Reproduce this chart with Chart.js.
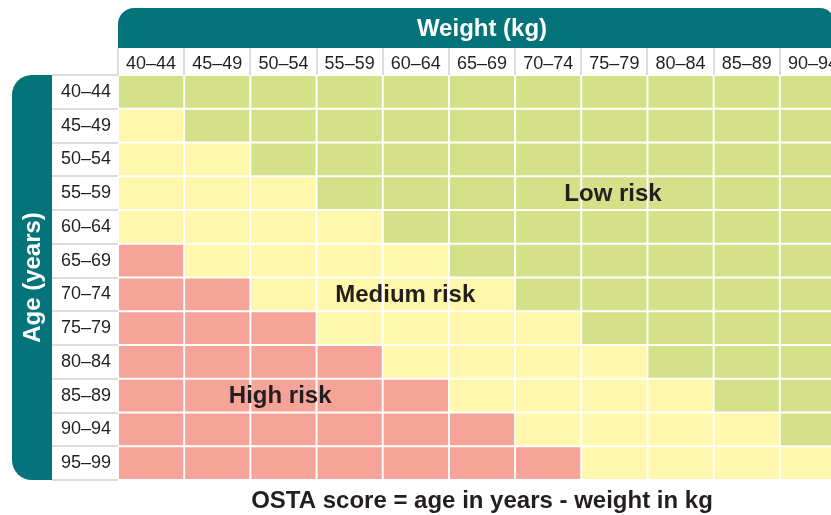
<!DOCTYPE html>
<html>
<head>
<meta charset="utf-8">
<script src="https://cdn.jsdelivr.net/npm/chart.js@4/dist/chart.umd.min.js"></script>
<style>
  html, body { margin: 0; padding: 0; background: #fff; overflow: hidden; }
  .content { width: 831px; height: 515px; overflow: hidden; }
</style>
</head>
<body>
<div class="content">
  <canvas id="chart" width="846" height="515"></canvas>
</div>
<script>
const ageGroups = ['40–44', '45–49', '50–54', '55–59', '60–64', '65–69', '70–74', '75–79', '80–84', '85–89', '90–94', '95–99'];
const weightGroups = ['40–44', '45–49', '50–54', '55–59', '60–64', '65–69', '70–74', '75–79', '80–84', '85–89', '90–94'];

// risk per age row, one letter per weight column (L low, M medium, H high)
const riskByAge = [
  ['L', 'L', 'L', 'L', 'L', 'L', 'L', 'L', 'L', 'L', 'L'],
  ['M', 'L', 'L', 'L', 'L', 'L', 'L', 'L', 'L', 'L', 'L'],
  ['M', 'M', 'L', 'L', 'L', 'L', 'L', 'L', 'L', 'L', 'L'],
  ['M', 'M', 'M', 'L', 'L', 'L', 'L', 'L', 'L', 'L', 'L'],
  ['M', 'M', 'M', 'M', 'L', 'L', 'L', 'L', 'L', 'L', 'L'],
  ['H', 'M', 'M', 'M', 'M', 'L', 'L', 'L', 'L', 'L', 'L'],
  ['H', 'H', 'M', 'M', 'M', 'M', 'L', 'L', 'L', 'L', 'L'],
  ['H', 'H', 'H', 'M', 'M', 'M', 'M', 'L', 'L', 'L', 'L'],
  ['H', 'H', 'H', 'H', 'M', 'M', 'M', 'M', 'L', 'L', 'L'],
  ['H', 'H', 'H', 'H', 'H', 'M', 'M', 'M', 'M', 'L', 'L'],
  ['H', 'H', 'H', 'H', 'H', 'H', 'M', 'M', 'M', 'M', 'L'],
  ['H', 'H', 'H', 'H', 'H', 'H', 'H', 'M', 'M', 'M', 'M']
];

const riskColors = { L: '#d4e189', M: '#fff7ab', H: '#f6a398' };
const teal = '#04737a';
const ink = '#231f20';

// zone labels placed in column units / age rows
const zoneLabels = [
  { text: 'Low risk', col: 7.48, age: '55–59' },
  { text: 'Medium risk', col: 4.34, age: '70–74' },
  { text: 'High risk', col: 2.45, age: '85–89' }
];

Chart.defaults.font.family = "'Liberation Sans', Arial, sans-serif";
Chart.defaults.color = ink;

function roundRect(ctx, x, y, w, h, r) {
  ctx.beginPath();
  ctx.moveTo(x + r[0], y);
  ctx.lineTo(x + w - r[1], y);
  ctx.arcTo(x + w, y, x + w, y + r[1], r[1]);
  ctx.lineTo(x + w, y + h - r[2]);
  ctx.arcTo(x + w, y + h, x + w - r[2], y + h, r[2]);
  ctx.lineTo(x + r[3], y + h);
  ctx.arcTo(x, y + h, x, y + h - r[3], r[3]);
  ctx.lineTo(x, y + r[0]);
  ctx.arcTo(x, y, x + r[0], y, r[0]);
  ctx.closePath();
}

const decorations = {
  id: 'decorations',
  beforeDraw(chart) {
    const { ctx, chartArea: a } = chart;
    ctx.save();
    ctx.fillStyle = teal;
    // weight header
    roundRect(ctx, a.left, 8, a.right - 12 - a.left, 40, [16, 14, 0, 0]);
    ctx.fill();
    // age header
    roundRect(ctx, 12, a.top, 40, a.bottom - a.top, [20, 0, 0, 20]);
    ctx.fill();

    ctx.fillStyle = '#fff';
    ctx.font = "bold 24px 'Liberation Sans', Arial, sans-serif";
    ctx.textAlign = 'center';
    ctx.textBaseline = 'middle';
    ctx.fillText('Weight (kg)', (a.left + a.right) / 2, 29);
    ctx.translate(33, (a.top + a.bottom) / 2);
    ctx.rotate(-Math.PI / 2);
    ctx.fillText('Age (years)', 0, 0);
    ctx.restore();
  },
  afterDatasetsDraw(chart) {
    const { ctx, scales } = chart;
    ctx.save();
    ctx.fillStyle = ink;
    ctx.font = "bold 24px 'Liberation Sans', Arial, sans-serif";
    ctx.textAlign = 'center';
    ctx.textBaseline = 'middle';
    zoneLabels.forEach(z => {
      const x = scales.x.getPixelForValue(z.col);
      const y = scales.y.getPixelForValue(ageGroups.indexOf(z.age));
      ctx.fillText(z.text, x, y + 1);
    });
    const a = chart.chartArea;
    ctx.fillText('OSTA score = age in years - weight in kg', (a.left + a.right) / 2, 501);
    ctx.restore();
  }
};

const ctx = document.getElementById('chart');
const chart = new Chart(ctx, {
  type: 'bar',
  data: {
    labels: ageGroups,
    datasets: weightGroups.map((w, j) => ({
      label: w,
      data: ageGroups.map(() => 1),
      backgroundColor: ageGroups.map((a, i) => riskColors[riskByAge[i][j]]),
      borderColor: '#fff',
      borderWidth: 1.3,
      borderSkipped: false,
      barPercentage: 1,
      categoryPercentage: 1
    }))
  },
  options: {
    indexAxis: 'y',
    responsive: false,
    animation: false,
    layout: { padding: { left: 52, top: 48, bottom: 35, right: 0 } },
    plugins: {
      legend: { display: false },
      tooltip: { enabled: false }
    },
    scales: {
      x: { type: 'linear', stacked: true, min: 0, max: 11, display: false },
      weight: {
        type: 'category',
        labels: weightGroups,
        position: 'top',
        offset: true,
        grid: { offset: true, drawOnChartArea: false, tickLength: 27, color: '#dcdcdc', lineWidth: 2 },
        border: { display: false },
        ticks: { font: { size: 18 }, color: ink, padding: -27, maxRotation: 0, autoSkip: false },
        afterFit: s => { s.height = 27; }
      },
      y: {
        stacked: true,
        offset: true,
        grid: { offset: true, drawOnChartArea: false, tickLength: 66, color: '#dcdcdc', lineWidth: 2 },
        border: { display: false },
        ticks: { font: { size: 18 }, color: ink, padding: -59 },
        afterFit: s => { s.width = 66; }
      }
    }
  },
  plugins: [decorations]
});
</script>
</body>
</html>
